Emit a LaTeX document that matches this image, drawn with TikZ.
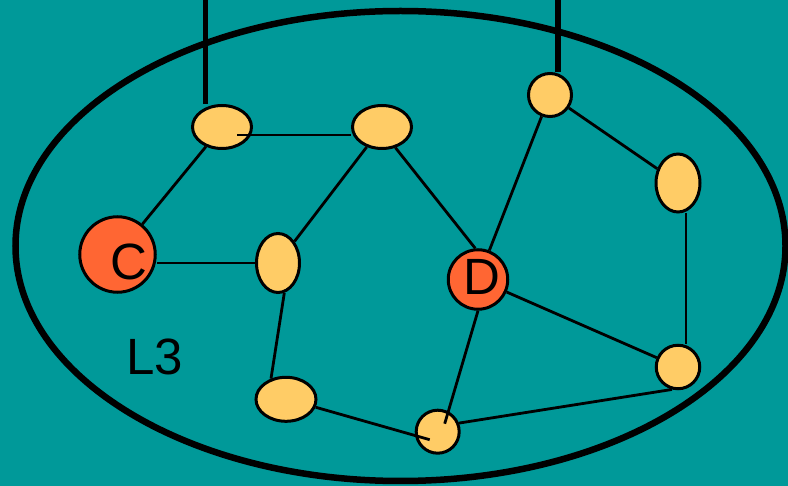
\documentclass[tikz,border=0pt]{standalone}
\usepackage{fontspec}
\setmainfont{Liberation Sans}
\usepackage{tikz}
\usetikzlibrary{calc,shapes.geometric}
\definecolor{cSea}{HTML}{009999}
\definecolor{cHost}{HTML}{FFCC66}
\definecolor{cEnd}{HTML}{FF6633}
\tikzset{
  hostblk/.style={draw=black, line width=3pt, fill=cHost, inner sep=0pt},
  hostell/.style={hostblk, ellipse},
  hostdot/.style={hostblk, circle},
  endblk/.style={draw=black, line width=3pt, fill=cEnd, circle, inner sep=0pt},
  lnk/.style={line width=2.8pt, black},
  trunk/.style={line width=5.5pt, black},
  lbl/.style={font=\fontsize{51}{51}\selectfont, text=black, inner sep=0pt}
}
\begin{document}
\begin{tikzpicture}[x=1pt, y=-1pt]
\fill[cSea] (0,0) rectangle (788,486);
\useasboundingbox (0,0) rectangle (788,486);
% domain boundary
\draw[line width=6.5pt] (400.5,246) ellipse [x radius=385, y radius=235];
% nodes
\node[hostell, minimum width=59pt, minimum height=43pt] (n1) at (222,127) {};
\node[hostell, minimum width=59pt, minimum height=43pt] (n2) at (382,127) {};
\node[hostdot, minimum size=43pt] (n3) at (550,95) {};
\node[hostell, minimum width=44pt, minimum height=58pt] (n4) at (678,183) {};
\node[endblk, minimum size=75.5pt, label={[lbl, xshift=11.5pt, yshift=-7pt]center:C}] (C) at (117.5,254.5) {};
\node[hostell, minimum width=43pt, minimum height=59pt] (n5) at (278,263) {};
\node[endblk, minimum size=59.5pt, label={[lbl, xshift=3.7pt, yshift=2.5pt]center:D}] (D) at (478,279.5) {};
\node[hostdot, minimum size=43.5pt] (n6) at (678,367) {};
\node[hostell, minimum width=60pt, minimum height=44pt] (n7) at (286,399.3) {};
\node[hostdot, minimum size=43pt] (n8) at (437.7,431.7) {};
\node[lbl] (l3) at (155,356.5) {L3};
% uplinks
\coordinate (t1) at (205.5,0);
\coordinate (t2) at (558,0);
\draw[trunk] (t1) -- (t1 |- n1.north);
\draw[trunk] (t2) -- (t2 |- n3.north);
% links
\draw[lnk] ([shift={(15,8)}]n1.center) -- ([shift={(-31,8)}]n2.center);
\draw[lnk] (n1) -- (C);
\draw[lnk] (n5.west) -- (n5.west -| C.east);
\draw[lnk] (n2) -- (n5);
\draw[lnk] (n2.-57) -- (D.95);
\draw[lnk] (n3) -- (D);
\draw[lnk] (n3) -- (n4);
\draw[lnk] ([xshift=8pt]n4.south) -- ([xshift=8pt]n6.north);
\draw[lnk] (D) -- (n6);
\draw[lnk] (D.south) -- ([shift={(7,-8)}]n8.center);
\draw[lnk] (n5.-78) -- (n7.126);
\draw[lnk] (n7.-15) -- ([shift={(-8,8)}]n8.center);
\draw[lnk] (n8.22) -- (n6.-105);
\end{tikzpicture}
\end{document}
